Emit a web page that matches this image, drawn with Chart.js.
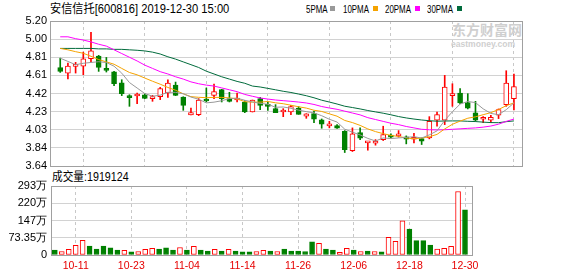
<!DOCTYPE html>
<html>
<head>
<meta charset="utf-8">
<script src="https://cdn.jsdelivr.net/npm/chart.js@4.4.0/dist/chart.umd.min.js"></script>
<style>
  body { margin: 0; background: #fff; width: 578px; height: 276px; overflow: hidden; position: relative;
         font-family: "Liberation Sans", "Noto Sans CJK SC", sans-serif; }
  canvas { position: absolute; left: 0; top: 0; }
  .txt { position: absolute; white-space: nowrap; color: #000; line-height: 12px; transform-origin: left center; }
  .sq { position: absolute; width: 5px; height: 5px; }
  .wm { position: absolute; white-space: nowrap; color: #cfcfcf; font-weight: bold; transform-origin: left center; }
</style>
</head>
<body>
<div class="wm" style="left:452px;top:21px;font-size:14px;line-height:16px;font-family:'Noto Sans CJK SC';">东方财富网</div>
<div class="wm" style="left:451px;top:39px;font-size:9px;line-height:10px;transform:scaleX(0.95);">eastmoney.com</div>

<div class="txt" style="left:50px;top:3px;font-size:12px;transform:scaleX(0.93);">安信信托[600816] 2019-12-30 15:00</div>
<div class="txt" style="left:306px;top:3px;font-size:11px;transform:scaleX(0.72);">5PMA</div>
<div class="sq" style="left:330px;top:6px;background:#999999;"></div>
<div class="txt" style="left:343px;top:3px;font-size:11px;transform:scaleX(0.72);">10PMA</div>
<div class="sq" style="left:373px;top:6px;background:#f5a300;"></div>
<div class="txt" style="left:385px;top:3px;font-size:11px;transform:scaleX(0.72);">20PMA</div>
<div class="sq" style="left:415px;top:6px;background:#ff00ff;"></div>
<div class="txt" style="left:427px;top:3px;font-size:11px;transform:scaleX(0.72);">30PMA</div>
<div class="sq" style="left:457px;top:6px;background:#006b3c;"></div>
<div class="txt" style="left:52px;top:171px;font-size:12px;transform:scaleX(0.89);">成交量:1919124</div>

<canvas id="priceChart" width="578" height="276"></canvas>
<canvas id="volChart" width="578" height="276"></canvas>

<script>
// trading days 2019-10-08 .. 2019-12-30
const dates = [
  "10-08","10-09","10-10","10-11","10-14","10-15","10-16","10-17","10-18","10-21",
  "10-22","10-23","10-24","10-25","10-28","10-29","10-30","10-31","11-01","11-04",
  "11-05","11-06","11-07","11-08","11-11","11-12","11-13","11-14","11-15","11-18",
  "11-19","11-20","11-21","11-22","11-25","11-26","11-27","11-28","11-29","12-02",
  "12-03","12-04","12-05","12-06","12-09","12-10","12-11","12-12","12-13","12-16",
  "12-17","12-18","12-19","12-20","12-23","12-24","12-25","12-26","12-27","12-30"
];

const opens = [
  4.700, 4.640, 4.712, 4.715, 4.794, 4.823, 4.690, 4.654, 4.536, 4.390,
  4.393, 4.407, 4.365, 4.386, 4.425, 4.511, 4.382, 4.189, 4.193, 4.350,
  4.400, 4.461, 4.365, 4.350, 4.329, 4.221, 4.365, 4.300, 4.257, 4.221,
  4.221, 4.264, 4.175, 4.203, 4.136, 4.071, 4.075, 4.014, 3.806, 4.000,
  3.889, 3.885, 3.924, 3.960, 3.964, 3.953, 3.928, 3.935, 3.942, 4.132,
  4.132, 4.397, 4.425, 4.322, 4.211, 4.143, 4.132, 4.186, 4.300, 4.365
];
const highs = [
  4.800, 4.747, 4.755, 4.865, 5.077, 4.830, 4.808, 4.658, 4.568, 4.407,
  4.425, 4.418, 4.400, 4.486, 4.568, 4.543, 4.385, 4.264, 4.365, 4.479,
  4.522, 4.465, 4.433, 4.425, 4.343, 4.350, 4.379, 4.329, 4.300, 4.257,
  4.293, 4.279, 4.203, 4.232, 4.146, 4.121, 4.085, 4.021, 4.050, 4.050,
  3.900, 3.924, 4.068, 3.985, 4.021, 3.964, 3.992, 3.942, 4.171, 4.221,
  4.615, 4.525, 4.472, 4.418, 4.336, 4.171, 4.186, 4.254, 4.665, 4.629
];
const lows = [
  4.647, 4.576, 4.640, 4.622, 4.758, 4.658, 4.651, 4.504, 4.397, 4.282,
  4.311, 4.364, 4.336, 4.354, 4.379, 4.397, 4.239, 4.189, 4.182, 4.329,
  4.365, 4.329, 4.329, 4.329, 4.214, 4.221, 4.246, 4.239, 4.214, 4.171,
  4.193, 4.196, 4.153, 4.107, 4.046, 4.050, 4.043, 3.785, 3.796, 3.924,
  3.810, 3.864, 3.914, 3.940, 3.950, 3.878, 3.889, 3.871, 3.932, 4.068,
  4.085, 4.282, 4.311, 4.254, 4.121, 4.107, 4.107, 4.150, 4.282, 4.243
];
const closes = [
  4.658, 4.715, 4.722, 4.794, 4.880, 4.701, 4.669, 4.526, 4.418, 4.375,
  4.407, 4.368, 4.386, 4.472, 4.533, 4.400, 4.293, 4.214, 4.350, 4.339,
  4.440, 4.365, 4.336, 4.372, 4.221, 4.350, 4.293, 4.282, 4.214, 4.236,
  4.279, 4.196, 4.200, 4.143, 4.089, 4.085, 4.046, 3.817, 3.985, 3.939,
  3.899, 3.907, 3.978, 3.950, 3.978, 3.928, 3.942, 3.907, 4.121, 4.193,
  4.490, 4.407, 4.318, 4.261, 4.132, 4.157, 4.164, 4.246, 4.533, 4.494
];

const ma5 = [
  4.800, 4.765, 4.730, 4.745, 4.754, 4.762, 4.753, 4.714, 4.639, 4.538,
  4.479, 4.419, 4.391, 4.402, 4.433, 4.432, 4.417, 4.382, 4.358, 4.319,
  4.327, 4.342, 4.366, 4.370, 4.347, 4.329, 4.314, 4.304, 4.272, 4.275,
  4.261, 4.241, 4.225, 4.211, 4.181, 4.143, 4.113, 4.036, 4.004, 3.974,
  3.937, 3.909, 3.942, 3.935, 3.942, 3.948, 3.955, 3.941, 3.975, 4.018,
  4.131, 4.224, 4.306, 4.334, 4.322, 4.255, 4.206, 4.192, 4.246, 4.319
];
const ma10 = [
  4.905, 4.890, 4.870, 4.853, 4.820, 4.785, 4.760, 4.735, 4.690, 4.646,
  4.621, 4.586, 4.552, 4.520, 4.485, 4.455, 4.417, 4.386, 4.379, 4.375,
  4.378, 4.378, 4.373, 4.363, 4.332, 4.327, 4.327, 4.334, 4.320, 4.310,
  4.294, 4.277, 4.263, 4.240, 4.227, 4.201, 4.176, 4.130, 4.107, 4.077,
  4.039, 4.010, 3.988, 3.969, 3.958, 3.942, 3.932, 3.941, 3.955, 3.980,
  4.039, 4.089, 4.123, 4.154, 4.169, 4.192, 4.214, 4.248, 4.289, 4.319
];
const ma20 = [
  5.030, 5.030, 5.010, 4.995, 4.975, 4.950, 4.930, 4.890, 4.850, 4.810,
  4.770, 4.725, 4.690, 4.655, 4.630, 4.600, 4.575, 4.545, 4.525, 4.510,
  4.500, 4.480, 4.460, 4.440, 4.410, 4.390, 4.372, 4.360, 4.350, 4.343,
  4.336, 4.328, 4.318, 4.302, 4.280, 4.264, 4.250, 4.230, 4.210, 4.190,
  4.160, 4.140, 4.120, 4.100, 4.085, 4.065, 4.050, 4.035, 4.030, 4.028,
  4.030, 4.035, 4.040, 4.045, 4.050, 4.058, 4.070, 4.090, 4.120, 4.145
];
const ma30 = [
  4.905, 4.905, 4.905, 4.905, 4.905, 4.900, 4.900, 4.895, 4.895, 4.890,
  4.885, 4.878, 4.865, 4.845, 4.815, 4.790, 4.760, 4.730, 4.700, 4.660,
  4.630, 4.600, 4.575, 4.550, 4.530, 4.500, 4.490, 4.475, 4.460, 4.444,
  4.431, 4.414, 4.396, 4.374, 4.348, 4.328, 4.307, 4.283, 4.269, 4.254,
  4.237, 4.222, 4.208, 4.191, 4.172, 4.157, 4.145, 4.135, 4.127, 4.122,
  4.124, 4.125, 4.125, 4.121, 4.118, 4.112, 4.107, 4.106, 4.117, 4.125
];

// volume in 万 shares
const volumes = [
  21, 15, 24, 41, 62, 38, 25, 38, 30, 21,
  20, 13, 15, 24, 28, 25, 30, 21, 32, 21,
  37, 21, 17, 24, 17, 24, 17, 13, 13, 15,
  20, 17, 15, 25, 17, 17, 15, 56, 50, 25,
  21, 11, 28, 21, 15, 17, 15, 13, 75, 58,
  145, 110, 61, 61, 42, 25, 28, 37, 270, 191.9124
];

const priceTickValues = [3.64, 3.835, 4.03, 4.225, 4.42, 4.615, 4.81, 5.005, 5.20];
const priceTickLabels = ["3.64", "3.84", "4.03", "4.23", "4.42", "4.61", "4.81", "5.00", "5.20"];
const volTickValues = [0, 73.35, 146.7, 220.05, 293.4];
const volTickLabels = ["0", "73.35万", "147万", "220万", "293万"];
const labelIdx = [3, 11, 19, 27, 35, 43, 51, 59];

const UP = "#ff0000";
const DOWN = "#008000";
const candleUp = closes.map((c, i) => c >= opens[i]);
const volUp = closes.map((c, i) => i > 0 && c >= closes[i - 1]);

const frame = {
  id: "frame",
  afterDraw(chart) {
    const { ctx, chartArea: a } = chart;
    ctx.save();
    ctx.strokeStyle = "#a0a0a0";
    ctx.lineWidth = 1;
    ctx.strokeRect(Math.round(a.left) + 0.5, Math.round(a.top) + 0.5,
      Math.round(a.right - a.left) - 1, Math.round(a.bottom - a.top));
    ctx.restore();
  }
};

const axisFont = { family: "Liberation Sans", size: 11 };

function maLine(label, values, color) {
  return {
    type: "line", label,
    data: values.map((v, i) => ({ x: i, y: v })),
    borderColor: color, borderWidth: 1, pointRadius: 0, tension: 0, order: 0
  };
}

// ====== K-line chart ======
new Chart(document.getElementById("priceChart"), {
  type: "bar",
  data: {
    datasets: [
      maLine("5PMA", ma5, "#999999"),
      maLine("10PMA", ma10, "#f5a300"),
      maLine("20PMA", ma20, "#ff00ff"),
      maLine("30PMA", ma30, "#006b3c"),
      {
        label: "body",
        data: opens.map((o, i) => ({ x: i, y: [o, closes[i]] })),
        backgroundColor: candleUp.map(u => u ? "#ffffff" : DOWN),
        borderColor: candleUp.map(u => u ? UP : DOWN),
        borderWidth: 1, borderSkipped: false, barThickness: 5, minBarLength: 2,
        grouped: false, order: 1
      },
      {
        label: "wick",
        data: lows.map((l, i) => ({ x: i, y: [l, highs[i]] })),
        backgroundColor: candleUp.map(u => u ? UP : DOWN),
        barThickness: 1, grouped: false, order: 2
      }
    ]
  },
  options: {
    responsive: false,
    animation: false,
    layout: { padding: { left: 0, right: 55, top: 21, bottom: 110 } },
    plugins: { legend: { display: false }, tooltip: { enabled: false } },
    scales: {
      x: {
        type: "linear", min: -1.33, max: 60.18, offset: false,
        afterBuildTicks: s => { s.ticks = labelIdx.map(v => ({ value: v })); },
        afterFit: s => { s.height = 0; },
        ticks: { display: false },
        grid: { color: "#c8c8c8", drawTicks: false, offset: false },
        border: { display: false, dash: [3, 3] }
      },
      y: {
        min: 3.64, max: 5.20,
        afterBuildTicks: s => { s.ticks = priceTickValues.map(v => ({ value: v })); },
        afterFit: s => { s.width = 50; },
        ticks: { callback: (v, i) => priceTickLabels[i], padding: 3, color: "#000", font: axisFont },
        grid: { color: "#d2d2d2", drawTicks: false },
        border: { display: false }
      }
    }
  },
  plugins: [frame]
});

// ====== Volume chart ======
new Chart(document.getElementById("volChart"), {
  type: "bar",
  data: {
    datasets: [{
      label: "成交量",
      data: volumes.map((v, i) => ({ x: i, y: v })),
      backgroundColor: volUp.map(u => u ? "#ffffff" : DOWN),
      borderColor: volUp.map(u => u ? UP : DOWN),
      borderWidth: 1, borderSkipped: false, barThickness: 5, grouped: false
    }]
  },
  options: {
    responsive: false,
    animation: false,
    layout: { padding: { left: 0, right: 105, top: 186, bottom: 0 } },
    plugins: { legend: { display: false }, tooltip: { enabled: false } },
    scales: {
      x: {
        type: "linear", min: -0.55, max: 60.15, offset: false,
        afterBuildTicks: s => { s.ticks = labelIdx.map(v => ({ value: v })); },
        afterFit: s => { s.height = 21; },
        ticks: { callback: v => dates[v], autoSkip: false, maxRotation: 0, padding: 5,
                 color: "#e60000", font: { family: "Liberation Sans", size: 10.5 } },
        grid: { color: "#c8c8c8", drawTicks: false, offset: false },
        border: { display: false, dash: [3, 3] }
      },
      y: {
        min: 0, max: 293.4,
        afterBuildTicks: s => { s.ticks = volTickValues.map(v => ({ value: v })); },
        afterFit: s => { s.width = 51; },
        ticks: { callback: (v, i) => volTickLabels[i], padding: 4, color: "#000", font: axisFont },
        grid: { color: "#d2d2d2", drawTicks: false },
        border: { display: false }
      }
    }
  },
  plugins: [frame]
});
</script>
</body>
</html>
